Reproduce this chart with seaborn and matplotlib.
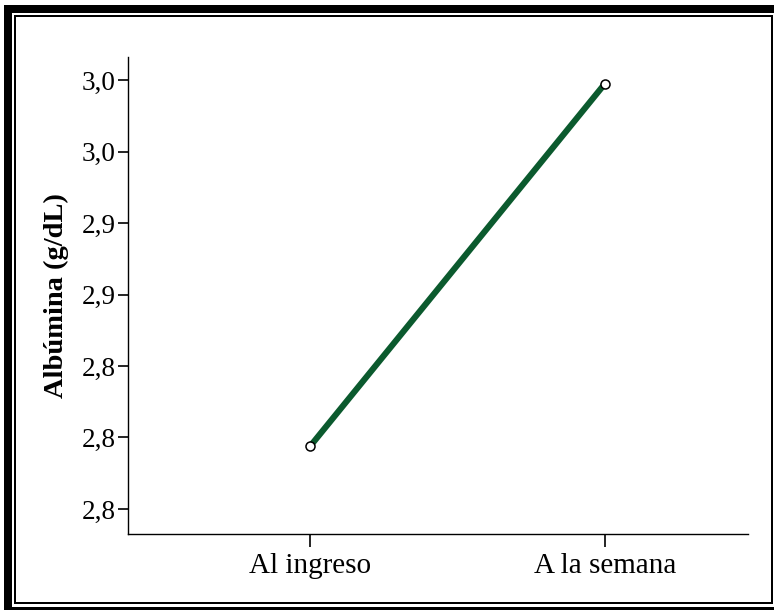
import numpy as np
import seaborn as sns
import matplotlib.pyplot as plt
from matplotlib.patches import Rectangle
from matplotlib.ticker import FuncFormatter

# data
momentos = ["Al ingreso", "A la semana"]
albumina = [2.795, 2.998]
yticks = [2.76, 2.80, 2.84, 2.88, 2.92, 2.96, 3.00]

W, H = 774, 610

sns.set_style("white")
plt.rcParams["font.family"] = ["Liberation Serif", "DejaVu Serif"]

fig = plt.figure(figsize=(W / 100, H / 100), dpi=100)
ax = fig.add_axes([128 / W, 1 - 534 / H, (748 - 128) / W, (534 - 57) / H])

sns.lineplot(
    x=momentos,
    y=albumina,
    sort=False,
    color="#0b5a2e",
    linewidth=4.4,
    marker="o",
    markersize=6.5,
    markerfacecolor="white",
    markeredgecolor="black",
    markeredgewidth=1.1,
    ax=ax,
)

ax.set_xlim(-0.617, 1.485)
ax.set_ylim(2.746, 3.0129)
ax.set_yticks(yticks)
ax.yaxis.set_major_formatter(FuncFormatter(lambda v, p: f"{v:.1f}".replace(".", ",")))

ax.set_xlabel("")
ax.set_ylabel("Albúmina (g/dL)", fontsize=20.5, fontweight="bold",
              color="black", labelpad=9)

sns.despine(ax=ax)
for side in ["left", "bottom"]:
    ax.spines[side].set_color("black")
    ax.spines[side].set_linewidth(1.0)

ax.tick_params(axis="y", which="major", left=True, length=7.2, width=1.2,
               color="black", labelsize=19.5, pad=1.5, labelcolor="black")
ax.tick_params(axis="x", which="major", bottom=True, length=9.4, width=1.2,
               color="black", labelsize=21, pad=4, labelcolor="black")
ax.grid(False)

# double frame around the whole chart (SPSS style)
def px_rect(x0, y0, x1, y1, lw_px, color):
    r = Rectangle((x0 / W, 1 - y1 / H), (x1 - x0) / W, (y1 - y0) / H,
                  transform=fig.transFigure, fill=False,
                  edgecolor=color, linewidth=lw_px * 0.72, clip_on=False)
    fig.add_artist(r)

px_rect(8, 9, 784, 611, 8, "black")
px_rect(15, 16, 772, 603, 2, "black")

plt.savefig("out.png", dpi=100)
